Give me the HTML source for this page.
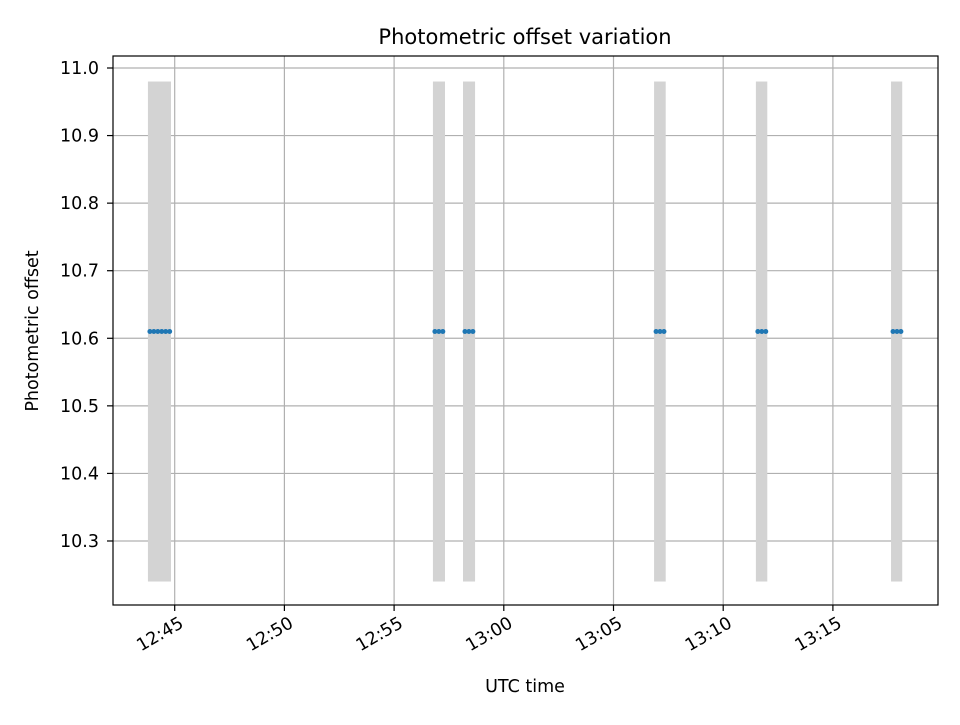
<!DOCTYPE html>
<html><head><meta charset="utf-8"><style>
body{margin:0;background:#fff}
svg{font-family:"DejaVu Sans","Liberation Sans",sans-serif}
</style></head><body>
<svg id="chart" width="960" height="720" xmlns="http://www.w3.org/2000/svg">
<rect width="960" height="720" fill="#fff"/>
<g id="grid"></g><g id="bars"></g><g id="pts"></g>
<rect x="113" y="56" width="825" height="549" fill="none" stroke="#000" stroke-width="1.2"/>
<g id="ticks"></g>
<text x="525" y="44" text-anchor="middle" font-size="21">Photometric offset variation</text>
<text x="525" y="692" text-anchor="middle" font-size="17.5">UTC time</text>
<text transform="translate(38,331) rotate(-90)" text-anchor="middle" font-size="17.5">Photometric offset</text>
</svg>
<script>
// times in minutes after 12:00 UTC
const xTickMinutes=[45,50,55,60,65,70,75];
const xTickLabels=["12:45","12:50","12:55","13:00","13:05","13:10","13:15"];
const yTicks=[10.3,10.4,10.5,10.6,10.7,10.8,10.9,11.0];
const windowStarts=[43.78,56.77,58.14,66.85,71.49,77.65];
const windowEnds=[44.83,57.32,58.69,67.38,72.01,78.16];
const windowLow=10.24, windowHigh=10.98;
const pointTimes=[43.87,44.05,44.23,44.41,44.59,44.77,56.86,57.04,57.22,58.23,58.41,58.59,66.94,67.12,67.30,71.58,71.76,71.94,77.74,77.92,78.10];
const pointValues=[10.61,10.61,10.61,10.61,10.61,10.61,10.61,10.61,10.61,10.61,10.61,10.61,10.61,10.61,10.61,10.61,10.61,10.61,10.61,10.61,10.61];
const NS="http://www.w3.org/2000/svg";
const X=t=>174.7+(t-45)*21.94;
const Y=v=>68+(11.0-v)*675.7;
function mk(tag,attrs,parent){const e=document.createElementNS(NS,tag);for(const k in attrs)e.setAttribute(k,attrs[k]);document.getElementById(parent).appendChild(e);return e;}
xTickMinutes.forEach((t,i)=>{
 const l=mk('line',{x1:X(t),x2:X(t),y1:56,y2:605,stroke:'#b0b0b0','stroke-width':1.2},'grid');
 
 
 const k=mk('line',{x1:X(t),x2:X(t),y1:605,y2:611,stroke:'#000','stroke-width':1.2},'ticks');
 
 
 const ax=X(t)+4, ay=616;
 const tx=mk('text',{x:ax,y:ay,'text-anchor':'end','font-size':17.5,transform:`rotate(-30 ${ax} ${ay})`,'dominant-baseline':'hanging'},'ticks');
 tx.textContent=xTickLabels[i];
 
 
});
yTicks.forEach(v=>{
 const l=mk('line',{x1:113,x2:938,y1:Y(v),y2:Y(v),stroke:'#b0b0b0','stroke-width':1.2},'grid');
 
 
 const k=mk('line',{x1:107,x2:113,y1:Y(v),y2:Y(v),stroke:'#000','stroke-width':1.2},'ticks');
 
 
 const tx=mk('text',{x:99,y:Y(v)+6,'text-anchor':'end','font-size':17.5},'ticks');
 tx.textContent=v.toFixed(1);
 
 
});
windowStarts.forEach((s,i)=>{
 const r=mk('rect',{x:X(s),y:Y(windowHigh),width:X(windowEnds[i])-X(s),height:Y(windowLow)-Y(windowHigh),fill:'#d3d3d3'},'bars');
 
 
});
pointTimes.forEach((t,i)=>{
 const c=mk('circle',{cx:X(t),cy:Y(pointValues[i]),r:2.5,fill:'#1f77b4'},'pts');
 
 
});
</script>
</body></html>
